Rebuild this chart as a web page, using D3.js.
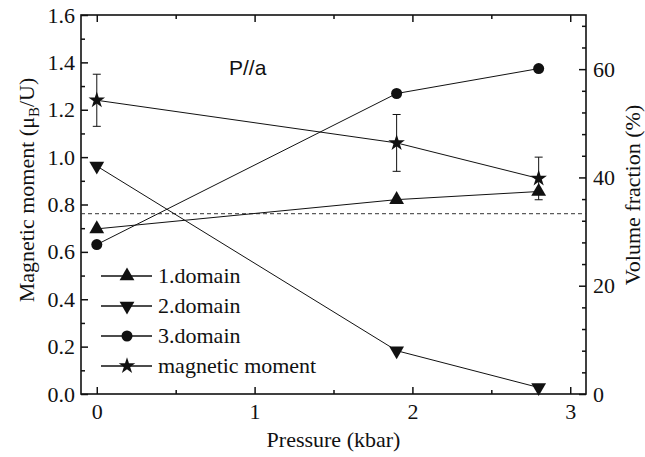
<!DOCTYPE html>
<html>
<head>
<meta charset="utf-8">
<script src="https://cdn.jsdelivr.net/npm/d3@7"></script>
</head>
<body style="margin:0">
<svg width="645" height="457"></svg>
<script>
// data
var pressure = [0, 1.9, 2.8];
var domain1 = [30.5, 35.9, 37.4];   // volume fraction (%)
var domain2 = [42.1, 8.0, 1.2];
var domain3 = [27.6, 55.5, 60.1];
var moment = [1.24, 1.06, 0.91];    // mu_B / U
var momentErr = [0.11, 0.12, 0.09];
var dashedLevel = 33.3;             // % (one third)

var xTicks = [0, 1, 2, 3];
var xMinor = [0.5, 1.5, 2.5];
var leftTicks = [0, 0.2, 0.4, 0.6, 0.8, 1.0, 1.2, 1.4, 1.6];
var rightTicks = [0, 20, 40, 60];
var legendNames = ["1.domain", "2.domain", "3.domain", "magnetic moment"];

var serif = "'Liberation Serif'";

var svg = d3.select("svg");
var margin = {top: 15, right: 59, bottom: 63, left: 81};
var width = +svg.attr("width") - margin.left - margin.right;
var height = +svg.attr("height") - margin.top - margin.bottom;

var x = d3.scaleLinear().domain([-0.1, 3.1]).range([0, width]);
var y = d3.scaleLinear().domain([0, 1.6]).range([height, 0]);
var y2 = d3.scaleLinear().domain([0, 70]).range([height, 0]);

var g = svg.append("g")
  .attr("transform", "translate(" + margin.left + "," + margin.top + ")");

// minor ticks
var leftMinor = d3.range(0.1, 1.6, 0.2);
var rightMinor = d3.range(0, 70, 4).filter(function(d) { return d % 20 !== 0; });

function tidy(sel) {
  sel.attr("font-family", serif);
  sel.select(".domain").remove();
  sel.selectAll("line").attr("stroke", "#111").attr("stroke-width", 1.5);
  sel.selectAll("text")
    .style("font-family", serif)
    .style("font-size", "22px")
    .attr("fill", "#111");
}

g.append("g").attr("transform", "translate(0," + height + ")")
  .call(d3.axisBottom(x).tickValues(xTicks).tickFormat(d3.format("d")).tickSize(-7).tickPadding(9))
  .call(tidy);
g.append("g").attr("transform", "translate(0," + height + ")")
  .call(d3.axisBottom(x).tickValues(xMinor).tickFormat("").tickSize(-4))
  .call(tidy);
g.append("g")
  .call(d3.axisTop(x).tickValues(xTicks).tickFormat("").tickSize(-7))
  .call(tidy);
g.append("g")
  .call(d3.axisTop(x).tickValues(xMinor).tickFormat("").tickSize(-4))
  .call(tidy);

g.append("g")
  .call(d3.axisLeft(y).tickValues(leftTicks).tickFormat(d3.format(".1f")).tickSize(-7).tickPadding(6))
  .call(tidy);
g.append("g")
  .call(d3.axisLeft(y).tickValues(leftMinor).tickFormat("").tickSize(-4))
  .call(tidy);

g.append("g").attr("transform", "translate(" + width + ",0)")
  .call(d3.axisRight(y2).tickValues(rightTicks).tickFormat(d3.format("d")).tickSize(-7).tickPadding(7))
  .call(tidy);
g.append("g").attr("transform", "translate(" + width + ",0)")
  .call(d3.axisRight(y2).tickValues(rightMinor).tickFormat("").tickSize(-4))
  .call(tidy);

g.append("rect")
  .attr("width", width).attr("height", height)
  .attr("fill", "none").attr("stroke", "#111").attr("stroke-width", 1.6);

// dashed one-third line
g.append("line")
  .attr("x1", 0).attr("x2", width)
  .attr("y1", y2(dashedLevel)).attr("y2", y2(dashedLevel))
  .attr("stroke", "#333").attr("stroke-width", 1).attr("stroke-dasharray", "4,3");

var series = [
  {values: domain1, scale: y2, symbol: d3.symbolTriangle, size: 95, rot: 0},
  {values: domain2, scale: y2, symbol: d3.symbolTriangle, size: 95, rot: 180},
  {values: domain3, scale: y2, symbol: d3.symbolCircle, size: 95, rot: 0},
  {values: moment, scale: y, symbol: d3.symbolStar, size: 85, rot: 0}
];

var line = d3.line();

series.forEach(function(s) {
  var pts = pressure.map(function(p, i) { return [x(p), s.scale(s.values[i])]; });
  g.append("path")
    .attr("d", line(pts))
    .attr("fill", "none").attr("stroke", "#111").attr("stroke-width", 1);
});

// error bars on magnetic moment
var eb = g.append("g").attr("stroke", "#111").attr("stroke-width", 1);
pressure.forEach(function(p, i) {
  var top = y(moment[i] + momentErr[i]), bot = y(moment[i] - momentErr[i]);
  eb.append("line").attr("x1", x(p)).attr("x2", x(p)).attr("y1", top).attr("y2", bot);
  eb.append("line").attr("x1", x(p) - 4).attr("x2", x(p) + 4).attr("y1", top).attr("y2", top);
  eb.append("line").attr("x1", x(p) - 4).attr("x2", x(p) + 4).attr("y1", bot).attr("y2", bot);
});

series.forEach(function(s) {
  g.selectAll(null)
    .data(pressure)
    .enter().append("path")
    .attr("d", d3.symbol().type(s.symbol).size(s.size))
    .attr("transform", function(p, i) {
      return "translate(" + x(p) + "," + s.scale(s.values[i]) + ") rotate(" + s.rot + ")";
    })
    .attr("fill", "#111");
});

// legend
var legend = svg.append("g");
legendNames.forEach(function(name, i) {
  var ly = 276 + i * 30;
  legend.append("line")
    .attr("x1", 101).attr("x2", 152).attr("y1", ly).attr("y2", ly)
    .attr("stroke", "#111").attr("stroke-width", 1.3);
  legend.append("path")
    .attr("d", d3.symbol().type(series[i].symbol).size(series[i].size))
    .attr("transform", "translate(127," + ly + ") rotate(" + series[i].rot + ")")
    .attr("fill", "#111");
  legend.append("text")
    .attr("x", 158).attr("y", ly).attr("dy", "0.33em")
    .style("font-family", serif)
    .style("font-size", "22px")
    .attr("fill", "#111")
    .text(name);
});

svg.append("text")
  .attr("x", 229).attr("y", 75)
  .style("font-family", "'Liberation Sans'")
  .style("font-size", "21px")
  .attr("fill", "#111")
  .text("P//a");

svg.append("text")
  .attr("x", margin.left + width / 2).attr("y", 447)
  .attr("text-anchor", "middle")
  .style("font-family", serif)
  .style("font-size", "22px")
  .attr("fill", "#111")
  .text("Pressure (kbar)");

var yl = svg.append("text")
  .attr("transform", "translate(34,190) rotate(-90)")
  .attr("text-anchor", "middle")
  .style("font-family", serif)
  .style("font-size", "22px")
  .attr("fill", "#111");
yl.append("tspan").text("Magnetic moment (\u03bc");
yl.append("tspan").attr("dy", "5").style("font-size", "15px").text("B");
yl.append("tspan").attr("dy", "-5").text("/U)");

svg.append("text")
  .attr("transform", "translate(640,195) rotate(-90)")
  .attr("text-anchor", "middle")
  .style("font-family", serif)
  .style("font-size", "22px")
  .attr("fill", "#111")
  .text("Volume fraction (%)");
</script>
</body>
</html>
